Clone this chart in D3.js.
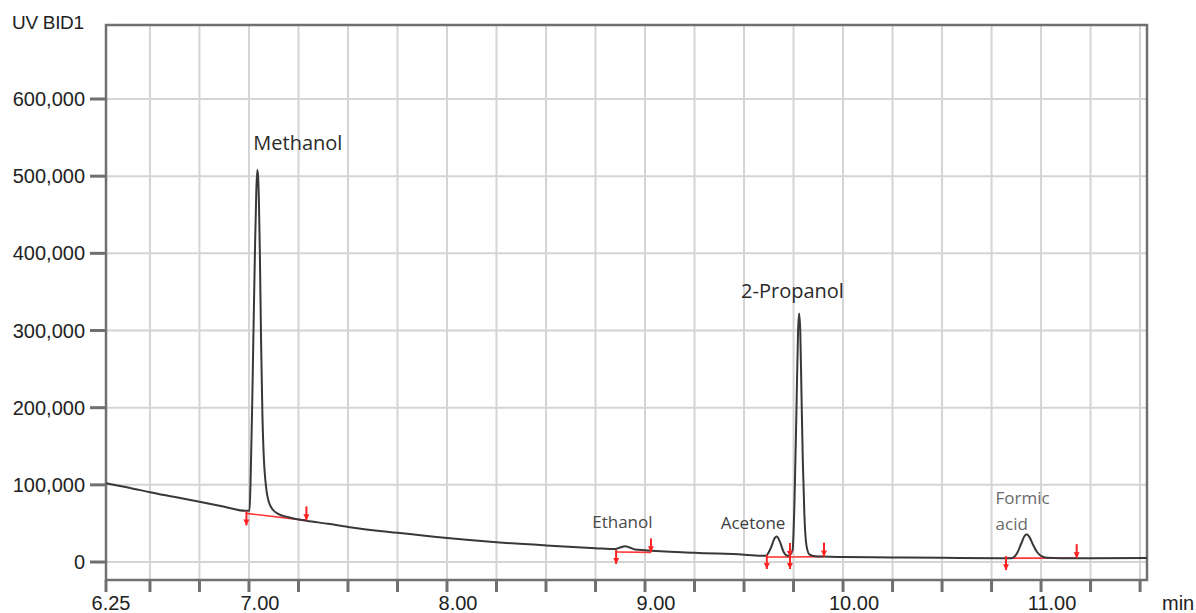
<!DOCTYPE html>
<html><head><meta charset="utf-8">
<script src="https://cdn.jsdelivr.net/npm/d3@7"></script>
<style>body{margin:0;background:#fff}</style>
</head><body><svg id="chart" width="1196" height="613"></svg>
<script>
// ---------- data ----------
const retentionTimes = [
  6.278, 6.40, 6.50, 6.62, 6.75, 6.87, 6.98, 7.003, 7.009, 7.016, 7.022, 7.030, 7.037, 7.042, 7.046,
  7.050, 7.055, 7.061, 7.068, 7.075, 7.082, 7.090, 7.100, 7.120, 7.150, 7.200, 7.290, 7.40, 7.50,
  7.75, 8.00, 8.25, 8.50, 8.75, 8.85, 8.875, 8.90, 8.925, 8.95, 9.00, 9.25, 9.50, 9.61,
  9.635, 9.655, 9.665, 9.68, 9.70, 9.715, 9.725, 9.745, 9.755, 9.765, 9.773, 9.778, 9.784,
  9.790, 9.797, 9.805, 9.815, 9.83, 9.86, 9.90, 10.00, 10.25, 10.50, 10.80, 10.85, 10.88,
  10.90, 10.915, 10.927, 10.94, 10.96, 10.98, 11.00, 11.03, 11.10, 11.25, 11.535
];
const signal = [
  102000, 96000, 90500, 84500, 78000, 72000, 66500, 66500, 115000, 200000, 288000, 400000, 480000, 508000, 500000,
  470000, 400000, 288000, 190000, 135000, 108000, 90000, 78000, 68000, 62000, 58000, 53500, 49500, 45500,
  37800, 31000, 25600, 21500, 18000, 16800, 18800, 20500, 18500, 16300, 15200, 12000, 9500, 8000,
  18000, 31000, 33000, 27000, 13000, 8500, 8000, 15000, 80000, 200000, 300000, 322000, 300000,
  220000, 130000, 60000, 22000, 10000, 7500, 7000, 6500, 6000, 5500, 5000, 5000, 12000,
  24000, 33000, 36000, 33000, 22000, 13000, 8000, 5500, 5000, 5000, 5200
];
const peakNames = ["Methanol", "Ethanol", "Acetone", "2-Propanol", "Formic acid"];
const peakApexTimes = [7.042, 8.90, 9.665, 9.778, 10.927];
const peakApexValues = [508000, 20500, 33000, 322000, 36000];
const integStartTimes = [6.987, 8.854, 9.615, 9.732, 10.823];
const integEndTimes = [7.290, 9.030, 9.732, 9.904, 11.180];
const integStartValues = [63000, 13000, 6500, 6500, 5000];
const integEndValues = [54000, 12500, 6500, 7000, 5000];
const yTickValues = [0, 100000, 200000, 300000, 400000, 500000, 600000];
const xTickValues = [6.25, 6.5, 6.75, 7, 7.25, 7.5, 7.75, 8, 8.25, 8.5, 8.75, 9, 9.25, 9.5, 9.75,
  10, 10.25, 10.5, 10.75, 11, 11.25, 11.5];
const xLabelValues = [6.25, 7, 8, 9, 10, 11];
const xLabelTexts = ["6.25", "7.00", "8.00", "9.00", "10.00", "11.00"];
const yAxisTitle = "UV BID1";
const xAxisTitle = "min";

// ---------- layout / style ----------
const W = 1196, H = 613;
const L = 106, R = 1147, T = 25, B = 580;
const axisColor = "#707070", gridColor = "#d4d4d4", traceColor = "#383838", red = "#f22";
const labelStyle = {
  "Methanol":   {dx: -4,  dy: -20, size: 20, color: "#2a2a2a"},
  "Ethanol":    {dx: -33, dy: -18, size: 17, color: "#4a4a4a"},
  "Acetone":    {dx: -56, dy: -8,  size: 17, color: "#3e3e3e"},
  "2-Propanol": {dx: -58, dy: -16, size: 20, color: "#2a2a2a"},
  "Formic acid":{dx: -31, dy: -30, size: 17, color: "#6a6a6a", lines: ["Formic", "acid"], lh: 26}
};

const svg = d3.select("#chart");
svg.append("rect").attr("width", W).attr("height", H).attr("fill", "#fff");

const x = d3.scaleLinear().domain([6.278, 11.535]).range([L, R]);
const y = d3.scaleLinear().domain([-23300, 695900]).range([B, T]);
const xPos = v => Math.max(x(v), L);

// grid
svg.append("g").selectAll("line").data(xTickValues.filter(v => x(v) > L + 2)).join("line")
  .attr("x1", d => x(d)).attr("x2", d => x(d)).attr("y1", T).attr("y2", B)
  .attr("stroke", gridColor).attr("stroke-width", 2);
svg.append("g").selectAll("line").data(yTickValues).join("line")
  .attr("x1", L).attr("x2", R).attr("y1", d => y(d)).attr("y2", d => y(d))
  .attr("stroke", gridColor).attr("stroke-width", 2);

// frame
svg.append("rect").attr("x", L).attr("y", T).attr("width", R - L).attr("height", B - T)
  .attr("fill", "none").attr("stroke", axisColor).attr("stroke-width", 2.5);

// y axis ticks + labels
const yAx = svg.append("g").attr("font-family", "Liberation Sans, Arial, sans-serif").attr("font-size", 20).attr("fill", "#222");
yAx.selectAll("line").data(yTickValues).join("line")
  .attr("x1", L - 16).attr("x2", L).attr("y1", d => y(d)).attr("y2", d => y(d))
  .attr("stroke", axisColor).attr("stroke-width", 3);
yAx.selectAll("text").data(yTickValues).join("text")
  .attr("x", L - 21).attr("y", d => y(d)).attr("dy", "0.35em").attr("text-anchor", "end")
  .text(d => d3.format(",")(d));

// x axis ticks + labels
const xAx = svg.append("g").attr("font-family", "Liberation Sans, Arial, sans-serif").attr("font-size", 20).attr("fill", "#222");
xAx.selectAll("line").data(xTickValues).join("line")
  .attr("x1", d => xPos(d)).attr("x2", d => xPos(d)).attr("y1", B).attr("y2", B + 12)
  .attr("stroke", axisColor).attr("stroke-width", 3);
xAx.selectAll("text").data(xLabelValues).join("text")
  .attr("x", (d, i) => i === 0 ? xPos(d) + 5 : x(d) + 11).attr("y", 610).attr("text-anchor", "middle")
  .text((d, i) => xLabelTexts[i]);
xAx.append("text").attr("x", 1162).attr("y", 610).text(xAxisTitle);
svg.append("text").attr("x", 12).attr("y", 29).attr("font-family", "Liberation Sans, Arial, sans-serif")
  .attr("font-size", 19).attr("fill", "#222").attr("letter-spacing", -0.3).text(yAxisTitle);

// integration baselines (red)
const integ = integStartTimes.map((t, i) => ({t0: t, t1: integEndTimes[i], v0: integStartValues[i], v1: integEndValues[i]}));
const gI = svg.append("g");
gI.selectAll("line").data(integ).join("line")
  .attr("x1", d => x(d.t0)).attr("x2", d => x(d.t1)).attr("y1", d => y(d.v0)).attr("y2", d => y(d.v1))
  .attr("stroke", red).attr("stroke-width", 1.6).attr("opacity", 0.9);

// trace
const pts = retentionTimes.map((t, i) => [t, signal[i]]);
svg.append("path").datum(pts)
  .attr("d", d3.line().x(d => x(d[0])).y(d => y(d[1])).curve(d3.curveMonotoneX))
  .attr("fill", "none").attr("stroke", traceColor).attr("stroke-width", 2).attr("stroke-linejoin", "round");

// markers
function marker(g, px, py, up) {
  const y0 = up ? py - 14 : py - 2, y1 = up ? py : py + 12;
  g.append("line").attr("x1", px).attr("x2", px).attr("y1", y0).attr("y2", y1).attr("stroke", red).attr("stroke-width", 2);
  g.append("path").attr("d", `M${px - 3},${y1 - 6}L${px + 3},${y1 - 6}L${px},${y1}Z`).attr("fill", red);
}
const gM = svg.append("g");
integ.forEach(d => { marker(gM, x(d.t0), y(d.v0), false); marker(gM, x(d.t1), y(d.v1), true); });

// peak labels
const gL = svg.append("g").attr("font-family", "Open Sans, sans-serif");
peakNames.forEach((name, i) => {
  const s = labelStyle[name];
  const px = x(peakApexTimes[i]) + s.dx, py = y(peakApexValues[i]) + s.dy;
  const lines = s.lines || [name];
  lines.forEach((ln, j) => {
    gL.append("text").attr("x", px).attr("y", py + j * (s.lh || 0))
      .attr("font-size", s.size).attr("fill", s.color).text(ln);
  });
});
</script></body></html>
